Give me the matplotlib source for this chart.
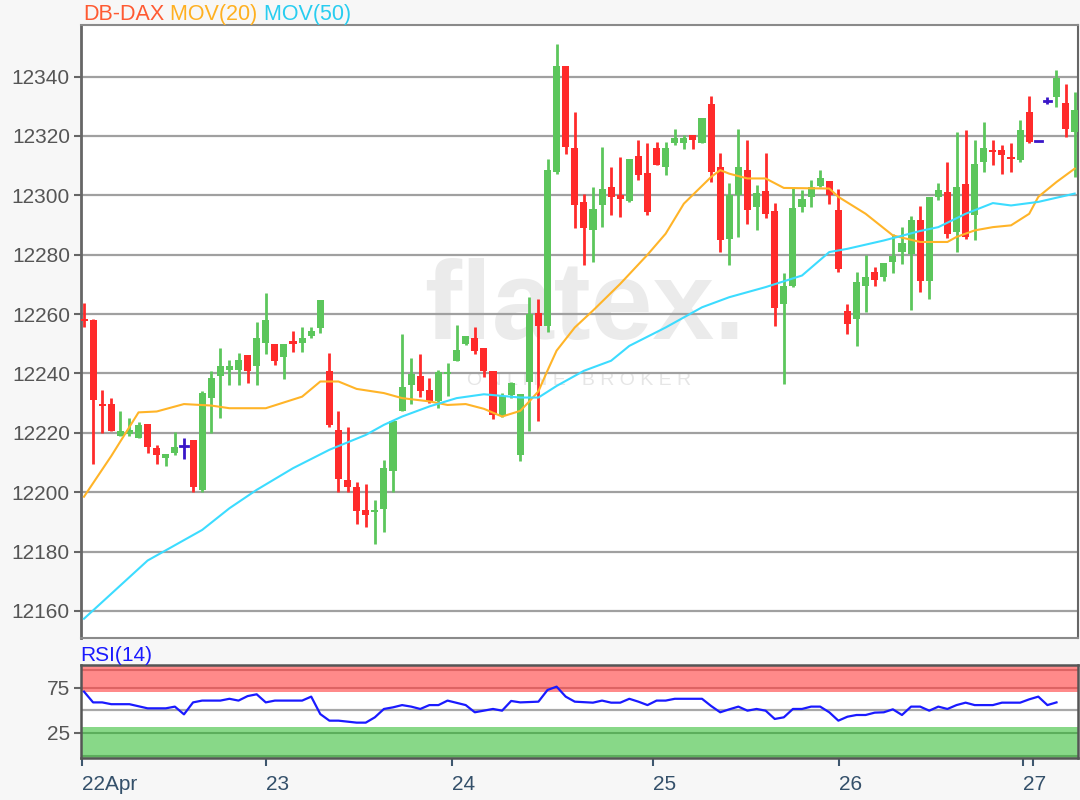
import matplotlib
matplotlib.use('Agg')
import matplotlib.pyplot as plt
import numpy as np

plt.rcParams['font.family'] = ['Liberation Sans', 'DejaVu Sans']

# candles (open, high, low, close), one per bar
opens = [12258.5, 12258.1, 12229.6, 12229.7, 12218.8, 12219.6, 12218.4, 12222.9, 12215.0, 12211.5,
         12213.1, 12215.6, 12217.6, 12200.8, 12231.7, 12239.0, 12241.2, 12241.2, 12246.1, 12242.4,
         12250.2, 12249.9, 12245.7, 12250.8, 12250.4, 12252.5, 12255.3, 12240.7, 12221.0, 12204.2,
         12201.6, 12194.0, 12193.3, 12194.4, 12207.2, 12227.4, 12236.2, 12239.3, 12234.5, 12230.8,
         12239.8, 12244.3, 12249.9, 12252.1, 12248.5, 12240.7, 12226.1, 12232.8, 12212.6, 12237.0,
         12260.3, 12256.1, 12307.9, 12343.6, 12315.8, 12297.8, 12288.4, 12296.6, 12302.8, 12300.0,
         12298.1, 12313.2, 12307.6, 12315.8, 12309.6, 12317.5, 12317.5, 12320.3, 12317.5, 12330.8,
         12309.6, 12285.4, 12300.0, 12308.5, 12296.1, 12301.5, 12294.7, 12263.3, 12269.4, 12296.1,
         12299.5, 12303.1, 12304.9, 12295.0, 12261.2, 12258.4, 12269.6, 12274.1, 12272.4, 12277.5,
         12280.9, 12280.3, 12291.6, 12271.3, 12299.3, 12301.1, 12287.6, 12303.7, 12293.3, 12311.3,
         12315.2, 12315.2, 12313.0, 12311.8, 12328.2, 12318.4, 12331.9, 12333.2, 12331.2, 12321.4]
highs = [12263.7, 12258.3, 12234.5, 12231.9, 12227.2, 12225.0, 12223.8, 12222.9, 12216.0, 12212.9,
         12220.2, 12218.4, 12217.6, 12234.0, 12240.7, 12248.5, 12244.6, 12246.9, 12246.1, 12257.5,
         12267.1, 12249.9, 12249.9, 12254.2, 12255.5, 12255.5, 12264.8, 12246.9, 12227.2, 12222.0,
         12203.6, 12202.7, 12197.4, 12210.9, 12224.0, 12253.4, 12245.2, 12246.5, 12238.4, 12241.2,
         12243.7, 12256.4, 12252.7, 12255.5, 12248.5, 12240.7, 12233.4, 12237.3, 12233.0, 12265.7,
         12265.1, 12312.4, 12351.0, 12343.6, 12328.2, 12300.4, 12302.8, 12316.4, 12309.6, 12313.0,
         12312.4, 12318.6, 12317.7, 12318.0, 12318.0, 12322.2, 12320.3, 12320.3, 12325.9, 12333.5,
         12314.3, 12304.2, 12322.2, 12318.8, 12303.4, 12314.3, 12297.5, 12273.9, 12302.8, 12301.7,
         12305.1, 12308.5, 12304.9, 12302.3, 12263.4, 12274.1, 12279.8, 12276.0, 12277.2, 12287.1,
         12289.3, 12292.9, 12296.3, 12299.3, 12304.2, 12311.3, 12321.4, 12322.0, 12318.6, 12324.8,
         12318.6, 12316.9, 12317.5, 12325.4, 12333.5, 12318.4, 12333.0, 12342.3, 12337.5, 12334.9]
lows = [12255.8, 12209.4, 12219.9, 12220.7, 12218.8, 12218.8, 12218.2, 12213.1, 12209.4, 12208.7,
        12212.6, 12211.2, 12200.0, 12200.0, 12219.9, 12225.0, 12236.2, 12236.2, 12236.7, 12236.2,
        12246.5, 12242.9, 12238.2, 12247.4, 12247.4, 12252.1, 12253.6, 12222.1, 12200.0, 12200.2,
        12189.2, 12188.4, 12182.5, 12186.5, 12200.0, 12227.2, 12229.7, 12232.2, 12230.0, 12228.3,
        12232.5, 12244.3, 12249.7, 12246.5, 12238.7, 12224.7, 12225.5, 12231.7, 12210.6, 12220.7,
        12224.0, 12253.9, 12307.3, 12314.1, 12289.1, 12276.4, 12277.5, 12289.3, 12293.3, 12292.7,
        12297.8, 12305.1, 12293.3, 12310.2, 12306.8, 12316.9, 12315.5, 12315.5, 12317.5, 12304.5,
        12280.9, 12276.4, 12286.0, 12290.5, 12288.4, 12292.5, 12256.0, 12236.3, 12269.1, 12294.4,
        12296.1, 12302.8, 12297.2, 12274.1, 12253.3, 12249.3, 12260.6, 12269.6, 12271.3, 12273.8,
        12276.9, 12261.4, 12267.4, 12265.1, 12298.5, 12285.8, 12280.9, 12285.4, 12284.8, 12307.9,
        12310.2, 12307.3, 12307.9, 12311.3, 12317.5, 12318.4, 12330.7, 12329.9, 12319.5, 12306.2]
closes = [12257.8, 12231.1, 12228.9, 12220.7, 12220.7, 12221.0, 12222.5, 12215.4, 12212.6, 12212.9,
          12215.1, 12215.6, 12201.9, 12233.4, 12238.4, 12242.4, 12242.6, 12244.6, 12240.9, 12251.9,
          12258.1, 12244.3, 12249.9, 12249.9, 12252.1, 12254.2, 12264.8, 12222.5, 12204.5, 12201.9,
          12193.7, 12192.4, 12194.0, 12208.1, 12224.0, 12235.6, 12239.8, 12234.2, 12230.8, 12240.4,
          12240.4, 12248.0, 12252.7, 12247.6, 12240.7, 12226.1, 12232.5, 12236.7, 12233.0, 12260.0,
          12256.1, 12308.5, 12343.6, 12316.4, 12296.6, 12289.1, 12295.5, 12302.3, 12299.5, 12298.9,
          12312.4, 12306.8, 12294.4, 12310.2, 12315.8, 12319.2, 12319.2, 12318.6, 12325.9, 12307.9,
          12285.0, 12300.0, 12309.6, 12295.0, 12300.8, 12293.6, 12262.1, 12269.4, 12295.8, 12298.9,
          12302.8, 12305.7, 12300.0, 12275.2, 12256.7, 12270.7, 12272.4, 12271.5, 12277.2, 12279.5,
          12283.9, 12291.6, 12271.3, 12299.3, 12301.7, 12287.1, 12302.8, 12285.9, 12310.5, 12315.8,
          12314.7, 12313.5, 12312.4, 12322.0, 12318.0, 12318.4, 12331.9, 12339.4, 12322.5, 12328.7]

# moving averages, sampled at bar positions
mov20_bar = [0, 3, 6, 8, 11, 14, 16, 20, 24, 26, 28, 30, 33, 35, 38, 40, 42, 44, 46, 48, 49, 50, 51,
             52, 54, 56, 59, 62, 64, 66, 69, 70, 71, 73, 75, 77, 82, 83, 86, 89, 92, 95, 96, 98, 100,
             102, 104, 105, 107, 109]
mov20 = [12198.5, 12212.2, 12226.9, 12227.2, 12229.7, 12229.2, 12228.3, 12228.3, 12232.2, 12237.3,
         12237.3, 12234.8, 12233.4, 12231.7, 12230.6, 12229.4, 12229.7, 12228.1, 12225.5, 12227.4,
         12230.6, 12234.0, 12241.0, 12247.7, 12255.5, 12261.2, 12270.2, 12280.0, 12287.1, 12297.2,
         12306.2, 12308.5, 12307.3, 12305.7, 12305.7, 12302.5, 12302.3, 12299.5, 12293.8, 12286.5,
         12284.3, 12284.3, 12286.0, 12288.2, 12289.3, 12289.9, 12293.8, 12299.5, 12304.5, 12309.0]
mov50_bar = [0, 2, 7, 13, 16, 19, 23, 27, 31, 33, 35, 38, 41, 44, 48, 50, 52, 55, 58, 60, 64, 68, 71,
             75, 79, 82, 84, 88, 92, 94, 97, 100, 102, 105, 109]
mov50 = [12157.4, 12163.0, 12177.0, 12187.3, 12194.6, 12200.8, 12208.1, 12214.3, 12219.3, 12222.7,
         12225.5, 12228.9, 12231.7, 12233.0, 12231.9, 12231.9, 12235.8, 12240.9, 12244.3, 12249.3,
         12255.5, 12262.3, 12265.7, 12269.1, 12273.0, 12280.9, 12282.0, 12284.8, 12288.0, 12289.3,
         12293.8, 12297.4, 12296.6, 12297.8, 12300.6]

# RSI(14)
rsi_bar = [0, 1, 2, 3, 5, 7, 9, 10, 11, 12, 13, 15, 16, 17, 18, 19, 20, 21, 24, 25, 26, 27, 28, 30,
           31, 32, 33, 34, 35, 36, 37, 38, 39, 40, 42, 43, 45, 46, 47, 48, 50, 51, 52, 53, 54, 56, 57,
           58, 59, 60, 61, 62, 63, 64, 65, 68, 69, 70, 71, 72, 73, 74, 75, 76, 77, 78, 79, 80, 81, 82,
           83, 84, 85, 86, 87, 88, 89, 90, 91, 92, 93, 94, 95, 96, 97, 98, 100, 101, 103, 104, 105,
           106, 107]
rsi = [71, 59, 59, 57, 57, 52.4, 52.4, 54.3, 45.7, 59, 61, 61, 63, 61, 66, 68, 59, 61, 61, 65.4, 46,
       38.7, 38.7, 36.5, 36.5, 42.4, 51.7, 53.5, 56, 54.3, 51.7, 56, 56, 61, 56, 48, 51.7, 49.8, 60.6,
       59, 59.8, 72.8, 76.5, 65.4, 59.8, 58.7, 61, 58.7, 58.7, 63, 59.8, 56, 61, 61, 63, 63, 55, 48,
       51.3, 54.3, 49.8, 51.7, 49.8, 40.6, 42.4, 51.7, 51.7, 54.3, 54.3, 48, 38.7, 43.1, 45, 45, 47.6,
       48, 51.3, 45, 54.3, 54.3, 49.8, 54.3, 51.7, 56, 58.7, 56, 56, 58.7, 58.7, 62.4, 65.4, 56, 59]

day_ticks = [-0.2, 20.0, 40.5, 62.6, 83.1, 103.3, 104.4]
day_labels = ['22Apr', '23', '24', '25', '26', '27', '']

GREEN = '#5cc65c'
RED = '#ff2b2b'
BLUE = '#3a16c8'

fig = plt.figure(figsize=(10.8, 8), dpi=100, facecolor='#f7f7f7')
ax = fig.add_axes([0.075, 0.2025, 0.923, 0.7663])
rx = fig.add_axes([0.075, 0.0525, 0.923, 0.1163], sharex=ax)

# watermark
ax.text(0.505, 0.535, 'flatex.', transform=ax.transAxes, fontsize=80,
        color='#ebebeb', ha='center', va='center', fontweight='bold', zorder=0)
ax.text(0.50, 0.42, 'O N L I N E   B R O K E R', transform=ax.transAxes, fontsize=14,
        color='#e6e6e6', ha='center', va='center', zorder=0)

x = np.arange(len(opens))
for i in x:
    o, h, l, c = opens[i], highs[i], lows[i], closes[i]
    if c > o:
        col = GREEN
    elif c < o:
        col = RED
    else:
        col = BLUE
    if h > l:
        ax.plot([i, i], [l, h], color=col, lw=2.0, zorder=3, solid_capstyle='butt')
    if c == o:
        ax.plot([i - 0.4, i + 0.4], [o, o], color=col, lw=2.0, zorder=4)
    else:
        ax.bar(i, abs(c - o), bottom=min(o, c), width=0.78, color=col, zorder=4, linewidth=0)

ax.plot(mov20_bar, mov20, color='#ffb428', lw=1.5, zorder=5)
ax.plot(mov50_bar, mov50, color='#3cdcff', lw=1.5, zorder=5)

ax.set_xlim(-0.33, 109.35)
ax.set_ylim(12150.9, 12357.4)
ax.set_yticks(np.arange(12160, 12341, 20))
ax.set_facecolor('white')
ax.grid(axis='y', color='#a0a0a0', lw=1.6, zorder=1)
ax.tick_params(axis='y', length=5, width=1.5, color='#666666', labelsize=15,
               labelcolor='#555555', pad=3)
ax.tick_params(axis='x', bottom=False, labelbottom=False)
for side, sp in ax.spines.items():
    sp.set_color('#8a8a8a')
    sp.set_linewidth(1.5)
ax.spines['left'].set_color('#666666')
ax.spines['left'].set_linewidth(2)
ax.spines['right'].set_color('#666666')

# RSI panel
rx.set_facecolor('white')
rx.set_ylim(-2.8, 100.6)
rx.axhspan(70.5, 100.6, color='#ff8a8a', lw=0, zorder=1)
rx.axhspan(-2.8, 31.5, color='#88d888', lw=0, zorder=1)
for lvl in (75, 95):
    rx.axhline(lvl, color='#dd6464', lw=1.5, zorder=2)
for lvl in (25, -0.5):
    rx.axhline(lvl, color='#5cae5c', lw=1.5, zorder=2)
rx.axhline(50, color='#a8a8a8', lw=1.6, zorder=2)
rx.plot(rsi_bar, rsi, color='#1a1aff', lw=1.6, zorder=3)
rx.set_yticks([25, 75])
rx.tick_params(axis='y', length=5, width=1.5, color='#666666', labelsize=15,
               labelcolor='#555555', pad=3)
rx.set_xticks(day_ticks)
rx.set_xticklabels(day_labels, ha='left')
rx.tick_params(axis='x', length=6, width=1.5, color='#3e566e', labelsize=15,
               labelcolor='#34506a', pad=6)
for sp in rx.spines.values():
    sp.set_color('#555555')
    sp.set_linewidth(1.8)

# legends as coloured text
t1 = fig.text(0.077, 0.975, 'DB-DAX', color='#ff5a32', fontsize=15.5, va='baseline')
t2 = ax.annotate(' MOV(20)', xy=(1, 0), xycoords=t1, color='#ffb020', fontsize=15.5, va='bottom')
ax.annotate(' MOV(50)', xy=(1, 0), xycoords=t2, color='#28cdf0', fontsize=15.5, va='bottom')
fig.text(0.074, 0.174, 'RSI(14)', color='#1a1aff', fontsize=15, va='baseline')

fig.savefig('out.png', dpi=100, facecolor=fig.get_facecolor())
